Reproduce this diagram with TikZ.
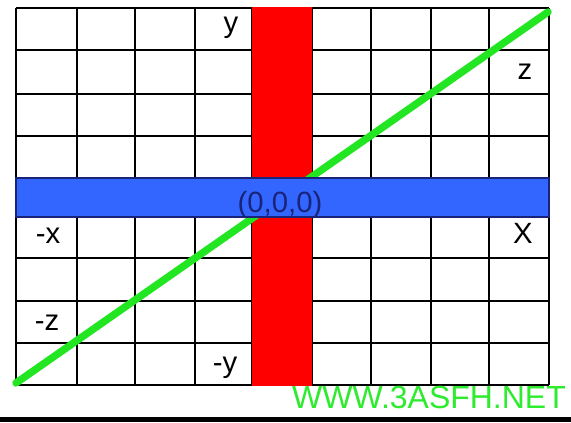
\documentclass[tikz,border=0pt]{standalone}
\usepackage{fontspec}
\setmainfont{Liberation Sans}
\usetikzlibrary{calc}
\definecolor{rougeAxe}{RGB}{255,0,0}
\definecolor{bleuAxe}{RGB}{51,102,255}
\definecolor{bordBleu}{RGB}{25,35,120}
\definecolor{vertAxe}{RGB}{34,230,34}
\definecolor{vertTexte}{RGB}{45,235,45}

\begin{document}
\begin{tikzpicture}[x=0.03cm,y=-0.03cm,
		etiquette/.style={font=\fontsize{25}{27}\selectfont, anchor=base, inner sep=0pt}]
		% cadre de l'image (en pixels)
		\pgfmathsetmacro{\largeur}{571}
		\pgfmathsetmacro{\hauteur}{422}
		\pgfmathsetmacro{\xg}{16}   % bord gauche du quadrillage
		\pgfmathsetmacro{\xd}{549}  % bord droit
		\pgfmathsetmacro{\yh}{8}    % bord haut
		\pgfmathsetmacro{\yb}{385}  % bord bas

		\useasboundingbox (0,0) rectangle (\largeur,\hauteur);
		\fill[white] (0,0) rectangle (\largeur,\hauteur);

		% quadrillage 9 x 9
		\foreach \x in {16,77,135,195,252,312,371,431,489,549}{%
			\draw[line width=1.4pt] (\x,\yh) -- (\x,\yb);
		}
		\foreach \y in {8,50,94,136,178,217,258,301,343,385}{%
			\draw[line width=1.4pt] (\xg,\y) -- (\xd,\y);
		}

		% bande rouge : axe y
		\fill[rougeAxe] (252,\yh-0.7) rectangle (312,\yb+0.7);

		% diagonale verte : axe z (passe sous la bande bleue)
		\coordinate (zmoins) at (16,383);
		\coordinate (zplus) at (548,12);
		\draw[vertAxe, line width=6.3pt, line cap=round] (zmoins) -- (zplus);

		% bande bleue : axe x
		\filldraw[fill=bleuAxe, draw=bordBleu, line width=1pt] (\xg,178) rectangle (\xd,217);

		% etiquettes des axes
		\node[etiquette] (ly) at (231,33) {y};
		\node[etiquette] (lz) at (525,80) {z};
		\node[etiquette, text=bordBleu] (lo) at (280,212) {(0,0,0)};
		\node[etiquette] (lmx) at (48,243) {-x};
		\node[etiquette] (lx) at (523,243) {X};
		\node[etiquette] (lmz) at (47,330) {-z};
		\node[etiquette] (lmy) at (225,372) {-y};

		% signature en bas
		\node[etiquette, font=\fontsize{27.3}{29}\selectfont, text=vertTexte] (site) at (429,408) {WWW.3ASFH.NET};
		\fill[black] (0,417) rectangle (\largeur,\hauteur);
	\end{tikzpicture}
\end{document}
